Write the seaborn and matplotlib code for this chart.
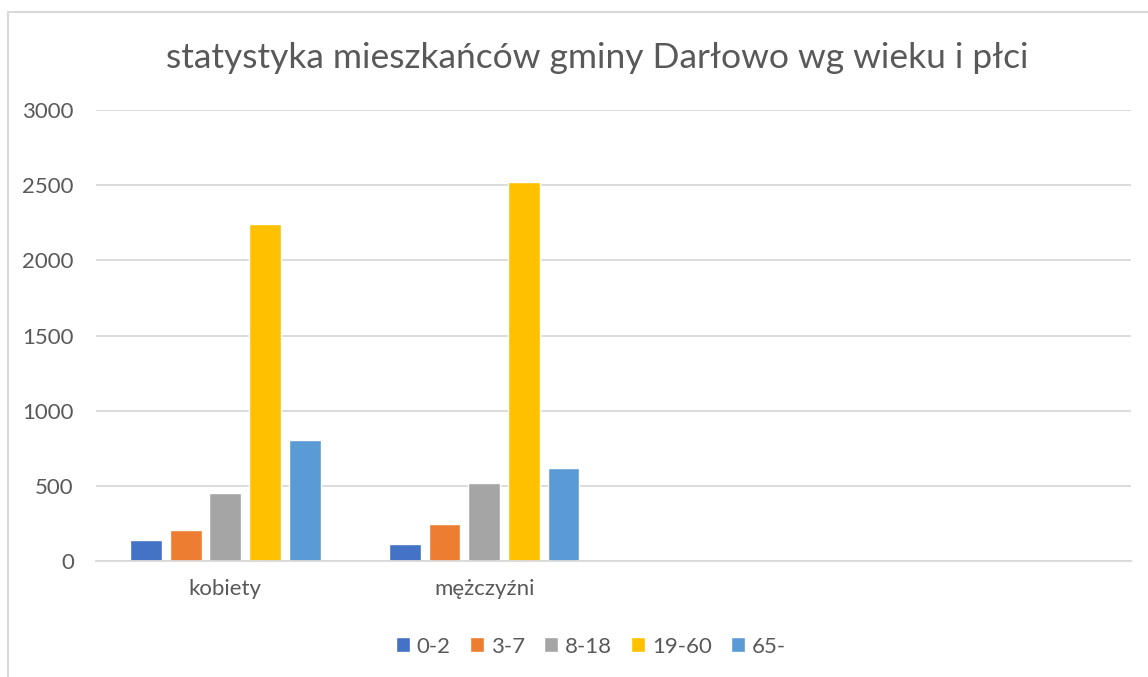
import pandas as pd
import seaborn as sns
import matplotlib.pyplot as plt
from matplotlib.lines import Line2D

# Data
plec = ['kobiety', 'mężczyźni']
grupy = ['0-2', '3-7', '8-18', '19-60', '65-']
kobiety = [140, 203, 455, 2242, 806]
mezczyzni = [114, 247, 517, 2523, 620]
kolory = ['#4472C4', '#ED7D31', '#A5A5A5', '#FFC000', '#5B9BD5']

df = pd.DataFrame({
    'plec': [plec[0]] * len(grupy) + [plec[1]] * len(grupy),
    'wiek': grupy * 2,
    'liczba': kobiety + mezczyzni,
})

sns.set_theme(style='white')
plt.rcParams['font.family'] = ['Lato', 'DejaVu Sans']
szary = '#595959'

fig = plt.figure(figsize=(11.48, 6.77), dpi=100)
ax = fig.add_axes([96 / 1148, 1 - 561 / 677, (1131 - 96) / 1148, (561 - 110) / 677])

sns.barplot(data=df, x='plec', y='liczba', hue='wiek', order=plec,
            hue_order=grupy, palette=kolory, saturation=1, width=0.767,
            gap=0.2, ax=ax, legend=True)

ax.set_xlim(-0.5, 3.5)
ax.set_ylim(0, 3000)
ax.set_yticks(range(0, 3001, 500))
ax.grid(axis='y', color='#D9D9D9', linewidth=1.3)
ax.set_axisbelow(True)
for s in ['top', 'right', 'left']:
    ax.spines[s].set_visible(False)
ax.spines['bottom'].set_color('#D9D9D9')
ax.spines['bottom'].set_linewidth(1.3)
ax.tick_params(axis='y', length=0, pad=16, labelsize=16, labelcolor=szary)
ax.tick_params(axis='x', length=0, pad=13, labelsize=16, labelcolor=szary)
ax.set_xlabel('')
ax.set_ylabel('')

fig.text(0.520, 1 - 58 / 677, 'statystyka mieszkańców gminy Darłowo wg wieku i płci',
         ha='center', va='center', fontsize=25.5, color=szary)

ax.legend(loc='center', bbox_to_anchor=(0.478, -0.19), ncol=5, frameon=False,
          handlelength=0.65, handleheight=0.65, handletextpad=0.3,
          columnspacing=0.85, fontsize=16, labelcolor=szary)

# chart border (cropped)
fig.add_artist(Line2D([7.5 / 1148, 1], [1 - 11.5 / 677] * 2, color='#D9D9D9', lw=1.5))
fig.add_artist(Line2D([7.5 / 1148] * 2, [0, 1 - 11.5 / 677], color='#D9D9D9', lw=1.5))

fig.savefig('out.png', dpi=100)
